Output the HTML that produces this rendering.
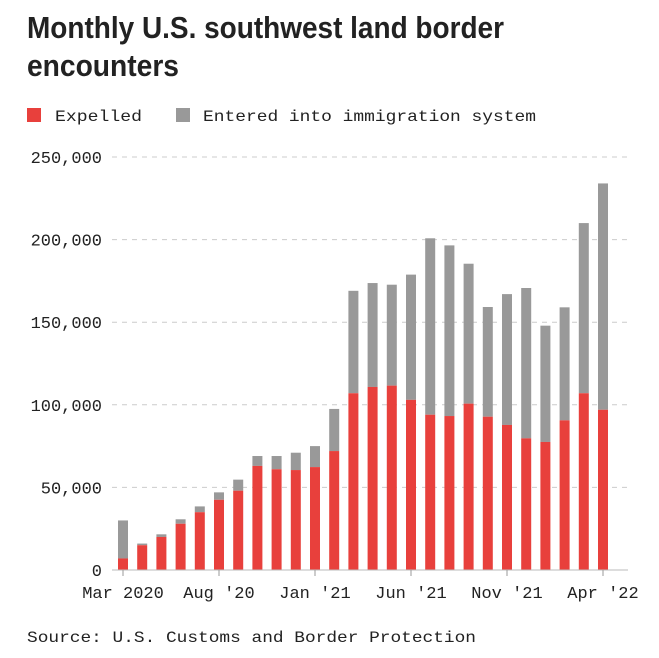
<!DOCTYPE html>
<html><head><meta charset="utf-8"><style>
body{margin:0;background:#fff;}
svg{display:block;font-family:"Liberation Mono",monospace;}
</style></head><body>
<svg id="chart" width="659" height="658" viewBox="0 0 659 658" xmlns="http://www.w3.org/2000/svg">
<text x="27" y="38" font-family="Liberation Sans, sans-serif" font-weight="bold" font-size="31" textLength="477" lengthAdjust="spacingAndGlyphs" fill="#222">Monthly U.S. southwest land border</text>
<text x="27" y="76" font-family="Liberation Sans, sans-serif" font-weight="bold" font-size="31" textLength="152" lengthAdjust="spacingAndGlyphs" fill="#222">encounters</text>
<rect x="27" y="108" width="14" height="14" fill="#e8403c"/>
<text x="55" y="121" font-size="16" textLength="87" lengthAdjust="spacingAndGlyphs" fill="#222">Expelled</text>
<rect x="176" y="108" width="14" height="14" fill="#999"/>
<text x="203" y="121" font-size="16" textLength="333" lengthAdjust="spacingAndGlyphs" fill="#222">Entered into immigration system</text>
<g id="grid"></g><g id="bars"></g><g id="xaxis"></g>
<text x="27" y="642" font-size="16" textLength="449" lengthAdjust="spacingAndGlyphs" fill="#222">Source: U.S. Customs and Border Protection</text>
</svg>
<script>
const months = ["Mar 2020","Apr 2020","May 2020","Jun 2020","Jul 2020","Aug 2020","Sep 2020","Oct 2020","Nov 2020","Dec 2020","Jan 2021","Feb 2021","Mar 2021","Apr 2021","May 2021","Jun 2021","Jul 2021","Aug 2021","Sep 2021","Oct 2021","Nov 2021","Dec 2021","Jan 2022","Feb 2022","Mar 2022","Apr 2022"];
const expelled = [7000,15000,20000,28000,35000,42500,48000,63000,61000,60500,62300,72000,107000,110800,111600,103000,94000,93200,100700,92800,87800,79700,77500,90600,107000,97000];
const totals = [30000,16000,21600,30700,38500,47000,54700,69000,69000,71000,75000,97500,169000,173700,172700,178800,200800,196500,185400,159200,167000,170700,147900,159000,210000,234000];
const yTicks = [0,50000,100000,150000,200000,250000];
const yTickLabels = ["0","50,000","100,000","150,000","200,000","250,000"];
const xTickIdx = [0,5,10,15,20,25];
const xTickLabels = ["Mar 2020","Aug '20","Jan '21","Jun '21","Nov '21","Apr '22"];
const NS="http://www.w3.org/2000/svg";
const y0=570, pxPer=413/250000, x0=123, step=19.2, bw=10;
function y(v){return y0 - v*pxPer;}
function x(i){return x0 + i*step;}
function mk(t,p,a){const e=document.createElementNS(NS,t);for(const k in a)e.setAttribute(k,a[k]);p.appendChild(e);return e;}
const grid=document.getElementById('grid'), bars=document.getElementById('bars'), xa=document.getElementById('xaxis');
yTicks.forEach((v,i)=>{
  if(v>0){const l=mk('line',grid,{x1:112,x2:628,y1:y(v),y2:y(v),stroke:'#ccc','stroke-dasharray':'5,5','stroke-width':1});
  
  }
  const t=mk('text',grid,{x:102,y:y(v)+6,'text-anchor':'end','font-size':17,fill:'#222'});
  t.textContent=yTickLabels[i];
  
  
});
months.forEach((m,i)=>{
  const g=mk('rect',bars,{x:x(i)-bw/2,y:y(totals[i]),width:bw,height:y(expelled[i])-y(totals[i]),fill:'#999'});
  
  
  const r=mk('rect',bars,{x:x(i)-bw/2,y:y(expelled[i]),width:bw,height:y0-y(expelled[i]),fill:'#e8403c'});
  
  
});
const base=mk('line',xa,{x1:112,x2:628,y1:y0,y2:y0,stroke:'#bbb','stroke-width':1});


xTickIdx.forEach((idx,i)=>{
  const tk=mk('line',xa,{x1:x(idx),x2:x(idx),y1:y0,y2:y0+6,stroke:'#999'});
  
  
  const t=mk('text',xa,{x:x(idx),y:598,'text-anchor':'middle','font-size':17,fill:'#222'});
  t.textContent=xTickLabels[i];
  
  
});
</script>
</body></html>
